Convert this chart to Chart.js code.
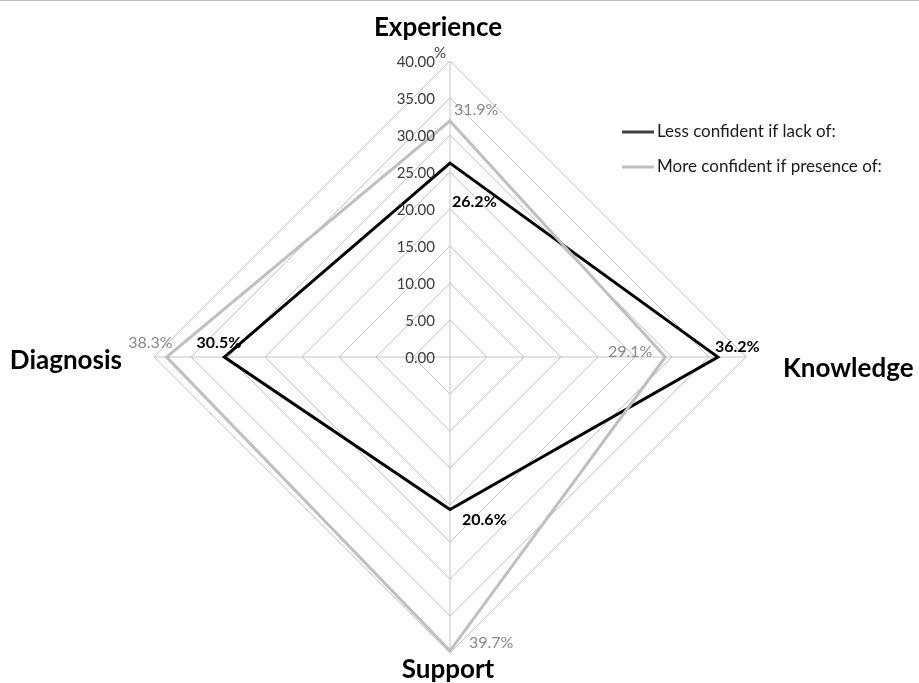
<!DOCTYPE html>
<html>
<head>
<meta charset="utf-8">
<script src="https://cdn.jsdelivr.net/npm/chart.js@4/dist/chart.umd.min.js"></script>
<style>
  html, body { margin: 0; padding: 0; background: #fff; }
  #wrap { position: relative; width: 919px; height: 683px; border-top: 1px solid #bdbdbd; box-sizing: border-box; overflow: hidden; }
  canvas { position: absolute; left: 0; top: -1px; }
</style>
</head>
<body>
<div id="wrap"><canvas id="chart" width="919" height="683"></canvas></div>
<script>
// Radar of confidence factors (percent of respondents)
const categories = ['Experience', 'Knowledge', 'Support', 'Diagnosis'];
const lessConfident = [26.2, 36.2, 20.6, 30.5];
const moreConfident = [31.9, 29.1, 39.7, 38.3];
const seriesNames = ['Less confident if lack of:', 'More confident if presence of:'];
const tickValues = [0, 5, 10, 15, 20, 25, 30, 35, 40];

// label placement relative to each point: [dx, dy, align]
const lessLabelOffsets = [[2, 39, 'left'], [-3, -10, 'left'], [12, 10, 'left'], [17, -14, 'right']];
const moreLabelOffsets = [[4, -11, 'left'], [-13, -5, 'right'], [19, -8, 'left'], [6, -14, 'right']];
// category label placement relative to the outer vertex: [dx, dy, align, baseline]
const categoryOffsets = [[-12, -33, 'center', 'middle'], [37, 12, 'left', 'middle'], [-2, 17, 'center', 'middle'], [-32, 4, 'right', 'middle']];

const FONT = 'Lato, "Open Sans", sans-serif';

const decorations = {
  id: 'decorations',
  afterDatasetsDraw(chart) {
    const ctx = chart.ctx;
    const r = chart.scales.r;
    ctx.save();

    // tick labels to the left of the vertical axis
    ctx.font = '15px ' + FONT;
    ctx.fillStyle = '#3a3a3a';
    ctx.textAlign = 'right';
    ctx.textBaseline = 'middle';
    tickValues.forEach(v => {
      const d = r.getDistanceFromCenterForValue(v);
      ctx.fillText(v.toFixed(2), r.xCenter - 15, r.yCenter - d + 1);
    });
    const top = r.getDistanceFromCenterForValue(tickValues[tickValues.length - 1]);
    ctx.textAlign = 'left';
    ctx.fillText('%', r.xCenter - 16, r.yCenter - top - 8);

    // category names
    ctx.font = 'bold 26px ' + FONT;
    ctx.fillStyle = '#000';
    categories.forEach((c, i) => {
      const p = r.getPointPosition(i, r.drawingArea);
      const o = categoryOffsets[i];
      ctx.textAlign = o[2];
      ctx.textBaseline = o[3];
      ctx.fillText(c, p.x + o[0], p.y + o[1]);
    });

    // value labels
    const drawLabels = (values, offsets, font, color) => {
      ctx.font = font;
      ctx.fillStyle = color;
      ctx.textBaseline = 'middle';
      values.forEach((v, i) => {
        const p = r.getPointPosition(i, r.getDistanceFromCenterForValue(v));
        const o = offsets[i];
        ctx.textAlign = o[2];
        ctx.fillText(v.toFixed(1) + '%', p.x + o[0], p.y + o[1]);
      });
    };
    drawLabels(moreConfident, moreLabelOffsets, '16px ' + FONT, '#878787');
    drawLabels(lessConfident, lessLabelOffsets, 'bold 16px ' + FONT, '#000');

    // legend
    ctx.font = '17px ' + FONT;
    ctx.textAlign = 'left';
    ctx.textBaseline = 'middle';
    const legendColors = ['#404040', '#bfbfbf'];
    seriesNames.forEach((name, i) => {
      const y = 132 + i * 35;
      ctx.strokeStyle = legendColors[i];
      ctx.lineWidth = 3;
      ctx.beginPath();
      ctx.moveTo(622, y);
      ctx.lineTo(654, y);
      ctx.stroke();
      ctx.fillStyle = '#1a1a1a';
      ctx.fillText(name, 657, y);
    });
    ctx.restore();
  }
};

new Chart(document.getElementById('chart'), {
  type: 'radar',
  data: {
    labels: categories,
    datasets: [
      {
        label: seriesNames[1],
        data: moreConfident,
        borderColor: '#bfbfbf',
        borderWidth: 3,
        fill: false,
        pointRadius: 0,
        tension: 0
      },
      {
        label: seriesNames[0],
        data: lessConfident,
        borderColor: '#000000',
        borderWidth: 3,
        fill: false,
        pointRadius: 0,
        tension: 0
      }
    ]
  },
  options: {
    responsive: false,
    animation: false,
    layout: { padding: { left: 150, right: 169, top: 61, bottom: 30 } },
    plugins: { legend: { display: false }, tooltip: { enabled: false } },
    scales: {
      r: {
        min: 0,
        max: 40,
        ticks: { display: false, stepSize: 5 },
        pointLabels: { display: false },
        grid: { color: '#c4c4c4', lineWidth: 1 },
        angleLines: { color: '#c4c4c4', lineWidth: 1 }
      }
    }
  },
  plugins: [decorations]
});
</script>
</body>
</html>
